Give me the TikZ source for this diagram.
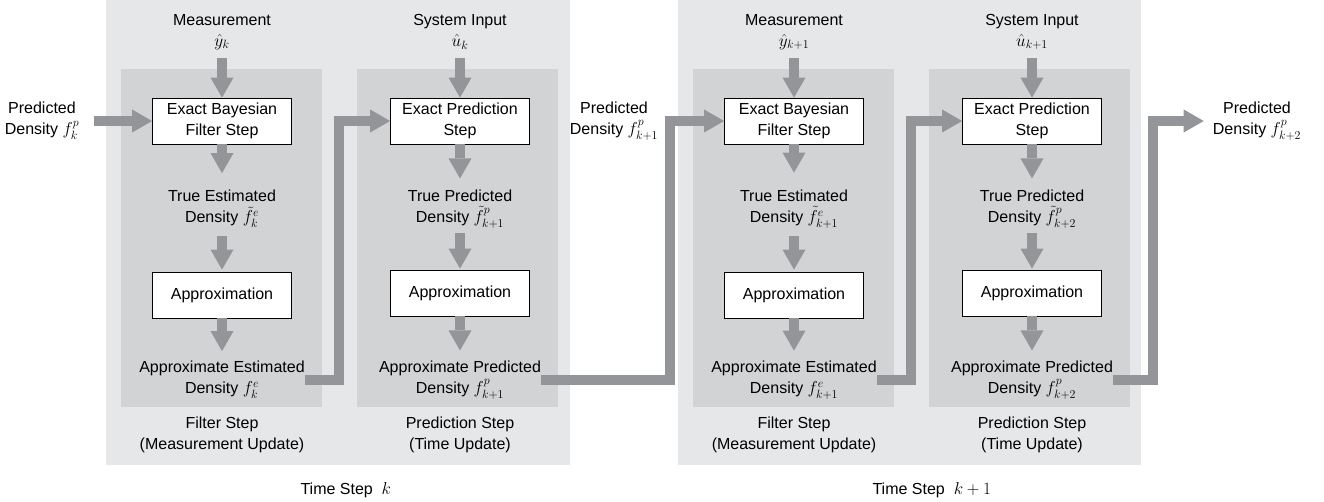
\documentclass[tikz,border=0pt]{standalone}
\usepackage{amsmath}
\usepackage[no-math]{fontspec}
\setmainfont{Liberation Sans}
\usepackage{tikz}
\usetikzlibrary{arrows.meta}
\DeclareMathSizes{16}{16}{12.5}{10}

\definecolor{panelgray}{RGB}{230,231,232}
\definecolor{innergray}{RGB}{209,211,212}
\definecolor{flowgray}{RGB}{147,149,152}

\tikzset{
  flow/.style={draw=flowgray, line width=10pt, line join=miter,
    -{Triangle[length=20pt,width=23pt,line width=0pt]}},
  stepbox/.style={draw, line width=0.8pt, fill=white, align=center,
    minimum width=139pt, minimum height=46pt, inner sep=0pt},
  lbl/.style={align=center, inner sep=0pt}
}

\begin{document}
\begin{tikzpicture}[x=1pt, y=-1pt, font=\fontsize{16}{21}\selectfont]
    \useasboundingbox (0,0) rectangle (1324,501);
    % time step k
    \fill[panelgray] (106,0) rectangle (570,465);
    \fill[innergray] (121,69) rectangle (322,407);
    \fill[innergray] (357,69) rectangle (558,407);
    % time step k+1
    \fill[panelgray] (678,0) rectangle (1141,465);
    \fill[innergray] (693,69) rectangle (894,407);
    \fill[innergray] (929,69) rectangle (1130,407);

    \node[lbl] (pin) at (42,121) {Predicted\\Density $f_k^p$};
    \node[lbl] (pmid) at (614,121) {Predicted\\Density $f_{k+1}^p$};
    \node[lbl] (pout) at (1257,121) {Predicted\\Density $f_{k+2}^p$};

    % filter step k
    \node[lbl] (meas1) at (222,32) {Measurement\\$\hat{y}_k$};
    \node[stepbox] (fbox1) at (222,121) {Exact Bayesian\\Filter Step};
    \node[lbl] (testim1) at (222,209) {True Estimated\\Density $\tilde{f}_k^e$};
    \node[stepbox] (fapprox1) at (222,295) {Approximation};
    \node[lbl] (aestim1) at (222,380) {Approximate Estimated\\Density $f_k^e$};
    \node[lbl] (fstep1) at (222,435) {Filter Step\\(Measurement Update)};

    % prediction step k
    \node[lbl] (inp1) at (460,32) {System Input\\$\hat{u}_k$};
    \node[stepbox] (pbox1) at (460,121) {Exact Prediction\\Step};
    \node[lbl] (tpred1) at (460,209) {True Predicted\\Density $\tilde{f}_{k+1}^p$};
    \node[stepbox] (papprox1) at (460,293) {Approximation};
    \node[lbl] (apred1) at (460,380) {Approximate Predicted\\Density $f_{k+1}^p$};
    \node[lbl] (pstep1) at (460,435) {Prediction Step\\(Time Update)};

    % filter step k+1
    \node[lbl] (meas2) at (794,32) {Measurement\\$\hat{y}_{k+1}$};
    \node[stepbox] (fbox2) at (794,121) {Exact Bayesian\\Filter Step};
    \node[lbl] (testim2) at (794,209) {True Estimated\\Density $\tilde{f}_{k+1}^e$};
    \node[stepbox] (fapprox2) at (794,295) {Approximation};
    \node[lbl] (aestim2) at (794,380) {Approximate Estimated\\Density $f_{k+1}^e$};
    \node[lbl] (fstep2) at (794,435) {Filter Step\\(Measurement Update)};

    % prediction step k+1
    \node[lbl] (inp2) at (1032,32) {System Input\\$\hat{u}_{k+1}$};
    \node[stepbox] (pbox2) at (1032,121) {Exact Prediction\\Step};
    \node[lbl] (tpred2) at (1032,209) {True Predicted\\Density $\tilde{f}_{k+2}^p$};
    \node[stepbox] (papprox2) at (1032,293) {Approximation};
    \node[lbl] (apred2) at (1032,380) {Approximate Predicted\\Density $f_{k+2}^p$};
    \node[lbl] (pstep2) at (1032,435) {Prediction Step\\(Time Update)};

    \node[anchor=base west] (tstep1) at (297,494) {Time Step~~$k$};
    \node[anchor=base west] (tstep2) at (869,494) {Time Step~~$k+1$};

    % arrows, time step k
    \draw[flow, shorten <=15pt] (pin) -- (fbox1);
    \draw[flow, shorten <=8pt] (meas1) -- (fbox1);
    \draw[flow, shorten >=17pt] (fbox1) -- (testim1);
    \draw[flow, shorten <=8pt, shorten >=2pt] (testim1) -- (fapprox1);
    \draw[flow, shorten >=10pt] (fapprox1) -- (aestim1);
    \draw[flow] (aestim1.east) -| ([xshift=-51pt]pbox1.west) -- (pbox1.west);
    \draw[flow, shorten <=8pt] (inp1) -- (pbox1);
    \draw[flow, shorten >=11pt] (pbox1) -- (tpred1);
    \draw[flow, shorten <=4pt, shorten >=1pt] (tpred1) -- (papprox1);
    \draw[flow, shorten >=10pt] (papprox1) -- (apred1);
    \draw[flow] (apred1.east) -| ([xshift=-54pt]fbox2.west) -- (fbox2.west);

    % arrows, time step k+1
    \draw[flow, shorten <=8pt] (meas2) -- (fbox2);
    \draw[flow, shorten >=17pt] (fbox2) -- (testim2);
    \draw[flow, shorten <=8pt, shorten >=2pt] (testim2) -- (fapprox2);
    \draw[flow, shorten >=10pt] (fapprox2) -- (aestim2);
    \draw[flow] (aestim2.east) -| ([xshift=-51pt]pbox2.west) -- (pbox2.west);
    \draw[flow, shorten <=8pt] (inp2) -- (pbox2);
    \draw[flow, shorten >=11pt] (pbox2) -- (tpred2);
    \draw[flow, shorten <=4pt, shorten >=1pt] (tpred2) -- (papprox2);
    \draw[flow, shorten >=10pt] (papprox2) -- (apred2);
    \draw[flow, shorten >=9pt] (apred2.east) -| ([xshift=-60pt]pout.west) -- (pout.west);
  \end{tikzpicture}
\end{document}
